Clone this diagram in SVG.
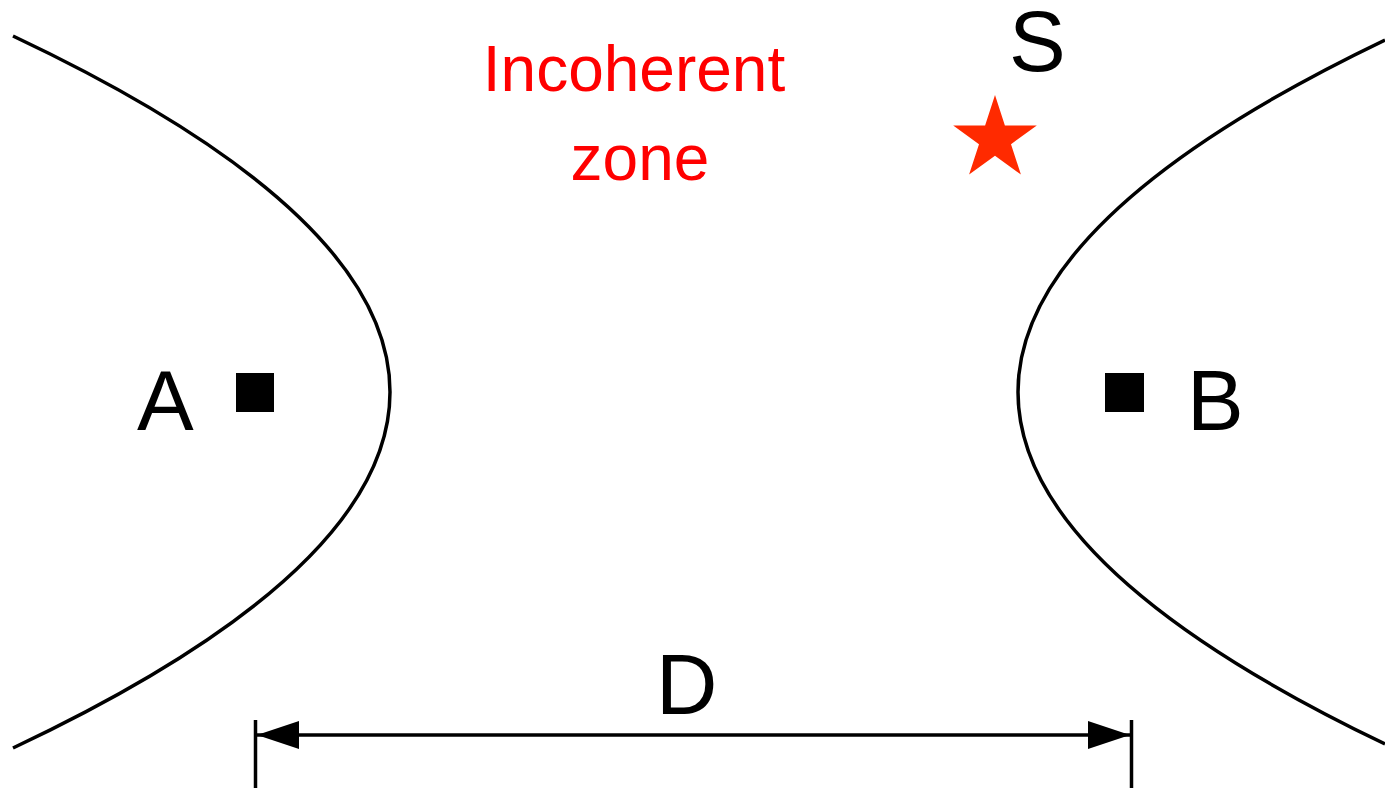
<svg xmlns="http://www.w3.org/2000/svg" width="1385" height="788" viewBox="0 0 1385 788">
  <style>
    .curve { fill: none; stroke: #000; stroke-width: 3.5; }
    .lbl { font-family: "Liberation Sans", Arial, sans-serif; font-size: 85px; fill: #000; }
    .red { font-family: "Liberation Sans", Arial, sans-serif; font-size: 64px; fill: #ff0000; text-anchor: middle; }
    .dim { stroke: #000; stroke-width: 3.5; fill: none; }
  </style>
  <defs>
    <marker id="arr" markerWidth="42" markerHeight="28" refX="42" refY="14" orient="auto-start-reverse" markerUnits="userSpaceOnUse">
      <path d="M0,0 L42,14 L0,28 Z" fill="#000"/>
    </marker>
  </defs>
  <rect width="1385" height="788" fill="#fff"/>
  <g id="curve-left">
    <path class="curve" d="M13,36 Q767,392 13,748"/>
  </g>
  <g id="curve-right">
    <path class="curve" d="M1385,40 Q651,392 1385,744"/>
  </g>
  <g id="node-A">
    <rect x="236" y="373" width="38" height="39" fill="#000"/>
    <text class="lbl" x="137" y="430">A</text>
  </g>
  <g id="node-B">
    <rect x="1105" y="373" width="39" height="39" fill="#000"/>
    <text class="lbl" x="1187" y="430">B</text>
  </g>
  <g id="node-S">
    <polygon fill="#ff2a00" points="995,95 1004.9,125.4 1036.8,125.4 1011,144.2 1020.9,174.6 995,155.8 969.1,174.6 979,144.2 953.2,125.4 985.1,125.4"/>
    <text class="lbl" x="1009" y="71">S</text>
  </g>
  <g id="label-zone">
    <text class="red" x="634" y="91">Incoherent</text>
    <text class="red" x="640" y="180">zone</text>
  </g>
  <g id="connectors">
    <line class="dim" x1="255.5" y1="720" x2="255.5" y2="788"/>
    <line class="dim" x1="1131.5" y1="720" x2="1131.5" y2="788"/>
    <line class="dim" x1="257" y1="735" x2="1130" y2="735" marker-start="url(#arr)" marker-end="url(#arr)"/>
    <text class="lbl" x="656" y="714">D</text>
  </g>
</svg>
